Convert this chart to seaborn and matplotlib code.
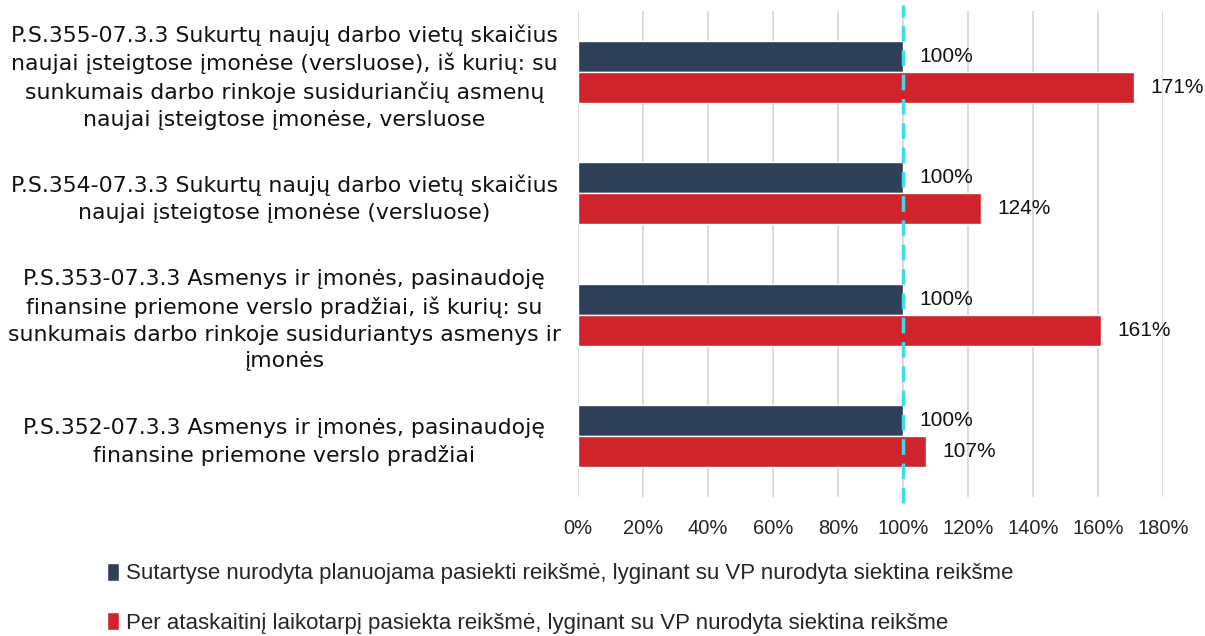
import pandas as pd
import matplotlib.pyplot as plt
import seaborn as sns

# Duomenys
rodikliai = [
    'P.S.355-07.3.3 Sukurtų naujų darbo vietų skaičius\nnaujai įsteigtose įmonėse (versluose), iš kurių: su\nsunkumais darbo rinkoje susiduriančių asmenų\nnaujai įsteigtose įmonėse, versluose',
    'P.S.354-07.3.3 Sukurtų naujų darbo vietų skaičius\nnaujai įsteigtose įmonėse (versluose)',
    'P.S.353-07.3.3 Asmenys ir įmonės, pasinaudoję\nfinansine priemone verslo pradžiai, iš kurių: su\nsunkumais darbo rinkoje susiduriantys asmenys ir\nįmonės',
    'P.S.352-07.3.3 Asmenys ir įmonės, pasinaudoję\nfinansine priemone verslo pradžiai',
]
serija_planas = 'Sutartyse nurodyta planuojama pasiekti reikšmė, lyginant su VP nurodyta siektina reikšme'
serija_pasiekta = 'Per ataskaitinį laikotarpį pasiekta reikšmė, lyginant su VP nurodyta siektina reikšme'
planas = [100, 100, 100, 100]
pasiekta = [171, 124, 161, 107]
x_ticks = [0, 20, 40, 60, 80, 100, 120, 140, 160, 180]

df = pd.DataFrame({
    'rodiklis': rodikliai * 2,
    'serija': [serija_planas] * 4 + [serija_pasiekta] * 4,
    'reiksme': planas + pasiekta,
})

sns.set_style('white')
siauras = ['Liberation Sans', 'DejaVu Sans']
plt.rcParams['font.family'] = ['DejaVu Sans']

fig = plt.figure(figsize=(12.05, 6.36), dpi=100)
ax = fig.add_axes([0.4797, 0.2186, 0.4854, 0.7641])

spalvos = {serija_planas: '#2E3F57', serija_pasiekta: '#D0232B'}
sns.barplot(data=df, x='reiksme', y='rodiklis', hue='serija', orient='h',
            order=rodikliai, hue_order=[serija_planas, serija_pasiekta],
            palette=spalvos, width=0.51, saturation=1, ax=ax, zorder=2)

# Reikšmių etiketės
for cont in ax.containers:
    for bar in cont:
        w = bar.get_width()
        ax.text(w + 5, bar.get_y() + bar.get_height() / 2, f'{w:.0f}%',
                va='center', ha='left', fontsize=15, color='#111111',
                family=siauras)

# Vertikali brūkšninė linija ties 100 %
ax.axvline(100, ymin=-0.012, ymax=1.012, color='#3DDCEB', linestyle=(0, (4.5, 2.5)),
           linewidth=2.5, zorder=3, clip_on=False)

ax.set_xlim(0, 180)
ax.set_xticks(x_ticks)
ax.set_xticklabels([f'{t}%' for t in x_ticks], family=siauras, fontsize=14.5)
ax.grid(axis='x', color='#D9D9D9', linewidth=1.3, zorder=0)
ax.set_axisbelow(True)
for s in ax.spines.values():
    s.set_visible(False)
ax.tick_params(axis='both', length=0)
ax.tick_params(axis='x', pad=16)
ax.set_xlabel('')
ax.set_ylabel('')
ax.set_yticks(range(len(rodikliai)))
ax.set_yticklabels(rodikliai, fontsize=15.8, ha='center', linespacing=1.42,
                   color='#111111')
ax.tick_params(axis='y', pad=211.5)

# Legenda
handles, labels = ax.get_legend_handles_labels()
ax.get_legend().remove()
fig.legend(handles, labels, loc='lower left', bbox_to_anchor=(0.072, -0.028),
           ncol=1, frameon=False, handlelength=0.55, handleheight=0.85,
           handletextpad=0.3, labelspacing=1.25, prop={'family': siauras, 'size': 16})

fig.savefig('out.png', dpi=100)
